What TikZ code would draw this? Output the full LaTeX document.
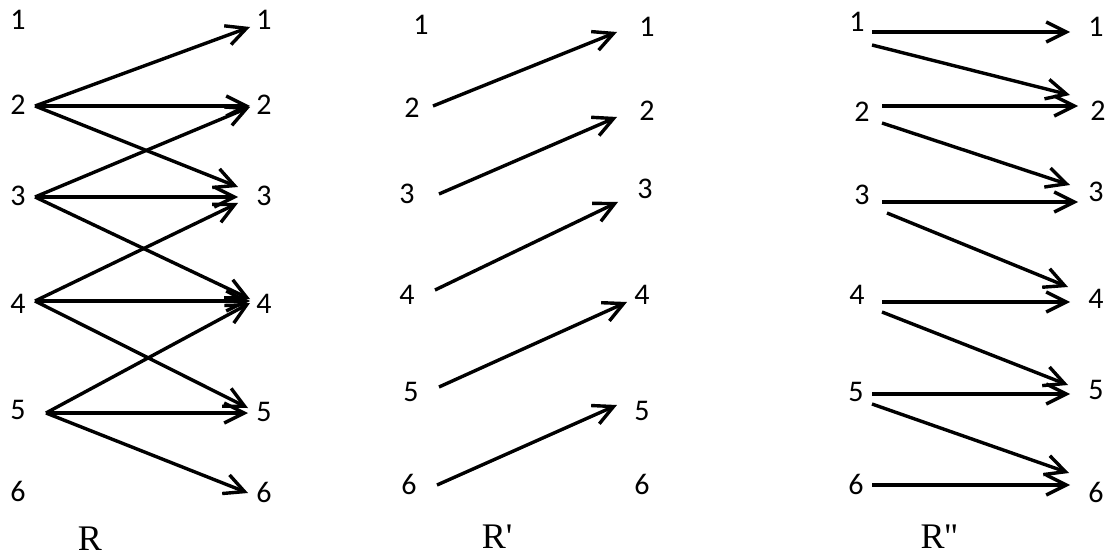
\documentclass[tikz,border=0pt]{standalone}
\usepackage{fontspec}
\newfontfamily\ttlfont{Liberation Serif}
\newfontfamily\numfont{Carlito}
\usetikzlibrary{arrows.meta}
\tikzset{
  num/.style={font=\numfont\fontsize{30}{30}\selectfont, inner sep=0pt, anchor=center},
  ttl/.style={font=\ttlfont\fontsize{36}{36}\selectfont, inner sep=0pt, text depth=0pt, anchor=base},
  arr/.style={line width=3.4pt, -{Straight Barb[length=20pt,width=20pt,line width=3.4pt]}}
}
\begin{document}
\begin{tikzpicture}[x=1pt,y=-1pt]
\useasboundingbox (0,0) rectangle (1111,556);
% ---------- R ----------
\foreach \i/\y in {1/20,2/105,3/196,4/304,5/410,6/491}
  \node[num] (ra\i) at (18,\y) {\i};
\foreach \i/\y in {1/20,2/105,3/196,4/304,5/412,6/492}
  \node[num] (rb\i) at (264,\y) {\i};
\coordinate (rs2) at (35,106);
\coordinate (rs3) at (35,197);
\coordinate (rs4) at (35,301);
\coordinate (rs5) at (46,413);
\coordinate (rt1) at (250,27);
\coordinate (rt2a) at (250,106);
\coordinate (rt2b) at (250,107);
\coordinate (rt3a) at (238,187);
\coordinate (rt3b) at (238,197);
\coordinate (rt3c) at (238,203);
\coordinate (rt4a) at (250,299);
\coordinate (rt4b) at (250,301);
\coordinate (rt4c) at (250,303);
\coordinate (rt5a) at (248,408);
\coordinate (rt5b) at (248,413);
\coordinate (rt6) at (248,493);
\draw[arr] (rs2) -- (rt1);
\draw[arr] (rs2) -- (rt2a);
\draw[arr] (rs2) -- (rt3a);
\draw[arr] (rs3) -- (rt2b);
\draw[arr] (rs3) -- (rt3b);
\draw[arr] (rs3) -- (rt4a);
\draw[arr] (rs4) -- (rt3c);
\draw[arr] (rs4) -- (rt4b);
\draw[arr] (rs4) -- (rt5a);
\draw[arr] (rs5) -- (rt4c);
\draw[arr] (rs5) -- (rt5b);
\draw[arr] (rs5) -- (rt6);
\node[ttl] (tR) at (90,550) {R};
% ---------- R' ----------
\foreach \i/\x/\y in {1/421/25,2/412/108,3/407/194,4/407/295,5/411/392,6/409/484}
  \node[num] (pa\i) at (\x,\y) {\i};
\foreach \i/\x/\y in {1/647/27,2/647/111,3/645/189,4/642/295,5/642/411,6/642/484}
  \node[num] (pb\i) at (\x,\y) {\i};
\coordinate (ps2) at (433,106);
\coordinate (ps3) at (439,194);
\coordinate (ps4) at (435,290);
\coordinate (ps5) at (439,387);
\coordinate (ps6) at (437,485);
\coordinate (pt1) at (617,32);
\coordinate (pt2) at (617,117);
\coordinate (pt3) at (618,202);
\coordinate (pt4) at (627,302);
\coordinate (pt5) at (617,405);
\draw[arr] (ps2) -- (pt1);
\draw[arr] (ps3) -- (pt2);
\draw[arr] (ps4) -- (pt3);
\draw[arr] (ps5) -- (pt4);
\draw[arr] (ps6) -- (pt5);
\node[ttl] (tRp) at (497,548) {R'};
% ---------- R'' ----------
\foreach \i/\x/\y in {1/857/22,2/862/112,3/862/195,4/857/295,5/856/392,6/856/484}
  \node[num] (qa\i) at (\x,\y) {\i};
\foreach \i/\x/\y in {1/1096/27,2/1098/111,3/1096/192,4/1096/299,5/1096/390,6/1096/492}
  \node[num] (qb\i) at (\x,\y) {\i};
\coordinate (qs1h) at (872,32);   \coordinate (qt1h) at (1070,32);
\coordinate (qs1d) at (872,45);   \coordinate (qt2d) at (1070,95);
\coordinate (qs2h) at (882,106);  \coordinate (qt2h) at (1078,106);
\coordinate (qs2d) at (882,123);  \coordinate (qt3d) at (1070,185);
\coordinate (qs3h) at (882,202);  \coordinate (qt3h) at (1078,202);
\coordinate (qs3d) at (887,213);  \coordinate (qt4d) at (1068,287);
\coordinate (qs4h) at (882,302);  \coordinate (qt4h) at (1070,302);
\coordinate (qs4d) at (882,312);  \coordinate (qt5d) at (1068,385);
\coordinate (qs5h) at (872,394);  \coordinate (qt5h) at (1070,394);
\coordinate (qs5d) at (872,404);  \coordinate (qt6d) at (1069,473);
\coordinate (qs6h) at (872,485);  \coordinate (qt6h) at (1070,485);
\draw[arr] (qs1h) -- (qt1h);
\draw[arr] (qs1d) -- (qt2d);
\draw[arr] (qs2h) -- (qt2h);
\draw[arr] (qs2d) -- (qt3d);
\draw[arr] (qs3h) -- (qt3h);
\draw[arr] (qs3d) -- (qt4d);
\draw[arr] (qs4h) -- (qt4h);
\draw[arr] (qs4d) -- (qt5d);
\draw[arr] (qs5h) -- (qt5h);
\draw[arr] (qs5d) -- (qt6d);
\draw[arr] (qs6h) -- (qt6h);
\node[ttl] (tRpp) at (939,548) {R''};
\end{tikzpicture}
\end{document}
